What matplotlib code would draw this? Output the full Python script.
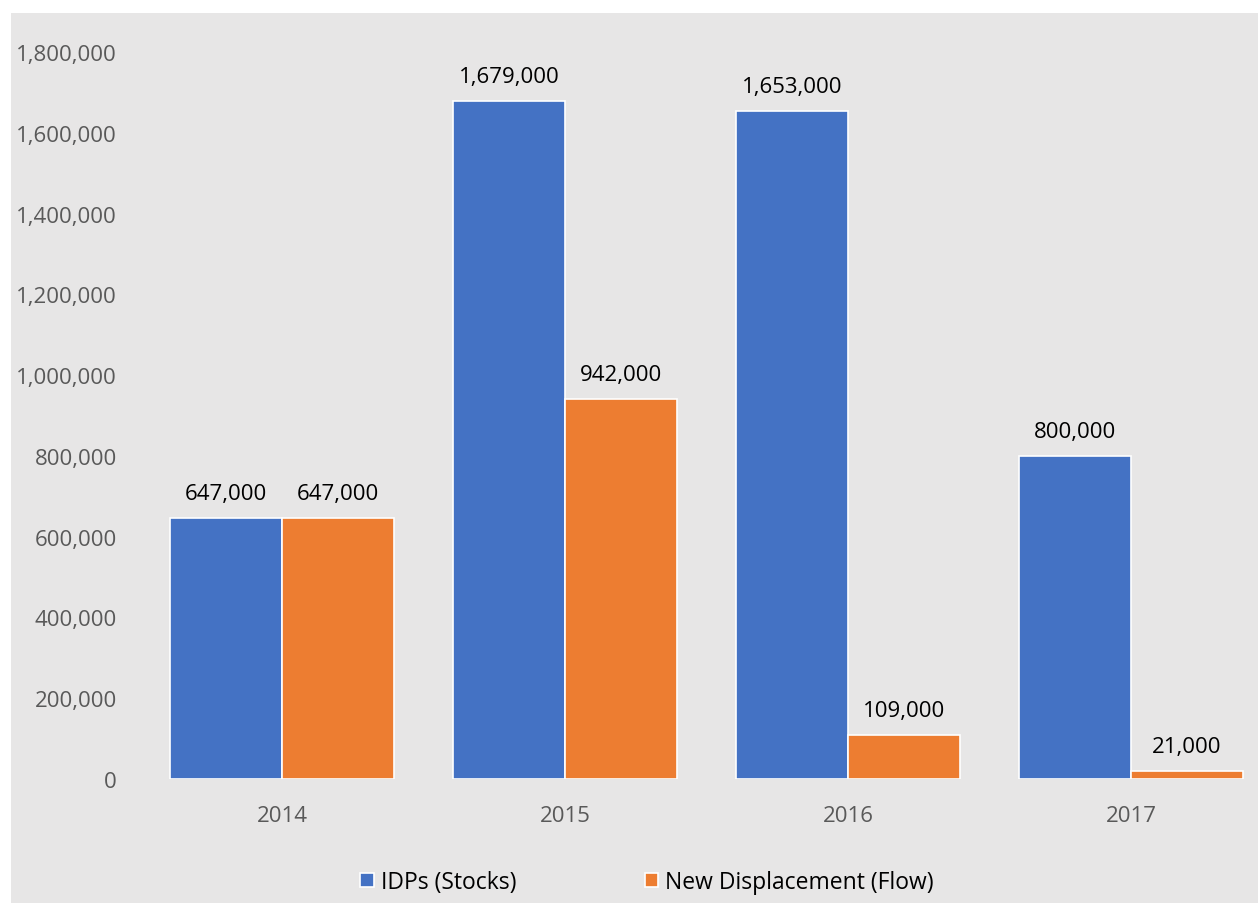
import matplotlib
matplotlib.use("Agg")
import matplotlib.pyplot as plt
from matplotlib.patches import Rectangle
from matplotlib.ticker import FuncFormatter
import numpy as np

years = ["2014", "2015", "2016", "2017"]
idps = [647000, 1679000, 1653000, 800000]
new_disp = [647000, 942000, 109000, 21000]
series_names = ["IDPs (Stocks)", "New Displacement (Flow)"]

BLUE = "#4472c4"
ORANGE = "#ed7d31"
BG = "#e7e6e6"

plt.rcParams["font.family"] = ["Open Sans", "DejaVu Sans"]

W, H = 1258, 904
fig = plt.figure(figsize=(W / 100, H / 100), dpi=100, facecolor="white")
# grey chart area (white margin top and left)
fig.patches.append(Rectangle((11 / W, 0), 1, 1 - 14 / H, transform=fig.transFigure,
                             facecolor=BG, edgecolor="none", zorder=-10))

ax = fig.add_axes([140.5 / W, 1 - 780 / H, 1132 / W, 727 / H])
ax.set_facecolor("none")

x = np.arange(len(years))
bw = 0.396
b1 = ax.bar(x - bw / 2, idps, bw, color=BLUE, edgecolor="white", linewidth=1.2,
            label=series_names[0])
b2 = ax.bar(x + bw / 2, new_disp, bw, color=ORANGE, edgecolor="white", linewidth=1.2,
            label=series_names[1])

for bars in (b1, b2):
    for rect in bars:
        v = rect.get_height()
        ax.annotate(f"{v:,.0f}", (rect.get_x() + rect.get_width() / 2, v),
                    xytext=(0, 10), textcoords="offset points",
                    ha="center", va="bottom", fontsize=16, color="black")

ax.set_xlim(-0.5, len(years) - 0.5)
ax.set_ylim(0, 1800000)
ax.set_yticks(np.arange(0, 1800001, 200000))
ax.yaxis.set_major_formatter(FuncFormatter(lambda v, p: f"{v:,.0f}"))
ax.set_xticks(x)
ax.set_xticklabels(years)
ax.tick_params(axis="both", length=0, labelsize=16, labelcolor="#595959")
ax.tick_params(axis="y", pad=17)
ax.tick_params(axis="x", pad=19)
for s in ax.spines.values():
    s.set_visible(False)

fig.legend(handles=[b1, b2], loc="center", bbox_to_anchor=(647 / W, 1 - 883 / H),
           ncol=2, frameon=False, fontsize=16.5, handlelength=0.6, handleheight=0.6,
           handletextpad=0.3, columnspacing=5.6)

fig.savefig("out.png", dpi=100, facecolor="white")
